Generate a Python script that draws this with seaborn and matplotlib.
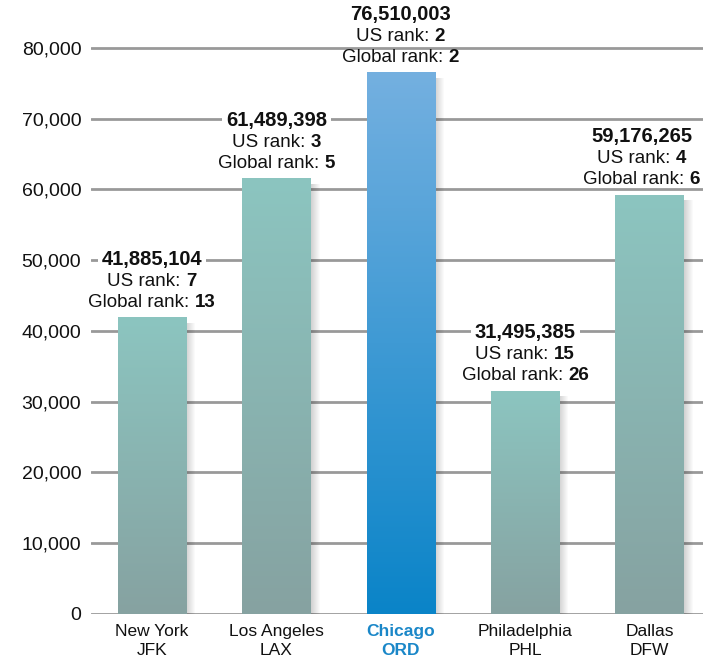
import numpy as np
import matplotlib
matplotlib.use("Agg")
import matplotlib.pyplot as plt
import seaborn as sns
from matplotlib.patches import Rectangle
from matplotlib.colors import LinearSegmentedColormap

# ---- data ----
airports = ["New York\nJFK", "Los Angeles\nLAX", "Chicago\nORD", "Philadelphia\nPHL", "Dallas\nDFW"]
passengers = [41885104, 61489398, 76510003, 31495385, 59176265]
us_rank = [7, 3, 2, 15, 4]
global_rank = [13, 5, 2, 26, 6]
yticks = [0, 10000, 20000, 30000, 40000, 50000, 60000, 70000, 80000]  # thousands
highlight = "Chicago\nORD"

sns.set_style("white")
plt.rcParams["font.family"] = ["Liberation Sans", "DejaVu Sans"]

W, H = 703, 662
fig = plt.figure(figsize=(W / 100, H / 100), dpi=100)
ax = fig.add_axes([91 / W, (H - 614) / H, 612 / W, 614 / H])

vals_k = [p / 1000 for p in passengers]
sns.barplot(x=airports, y=vals_k, width=0.55, ax=ax, color="#8cc5c0", zorder=3)

xlim = (-0.49, 4.43)
ylim = (0, 86780)
ax.set_xlim(*xlim)
ax.set_ylim(*ylim)
px_x = (xlim[1] - xlim[0]) / 612
px_y = (ylim[1] - ylim[0]) / 614

teal = LinearSegmentedColormap.from_list("teal", ["#86a2a1", "#8cc5c0"])
blue = LinearSegmentedColormap.from_list("blue", ["#0a84c8", "#74b0e0"])
grad = np.linspace(0, 1, 256).reshape(-1, 1)

for patch, name in zip(ax.patches, airports):
    x0, w, h = patch.get_x(), patch.get_width(), patch.get_height()
    patch.set_facecolor("none")
    patch.set_edgecolor("none")
    cmap = blue if name == highlight else teal
    ax.imshow(grad, extent=[x0, x0 + w, 0, h], origin="lower", cmap=cmap,
              aspect="auto", zorder=3, interpolation="bicubic")
    # soft shadow on right
    for i in range(1, 10):
        ax.add_patch(Rectangle((x0 + i * px_x, 0), w, h - 5 * px_y,
                               facecolor="black", alpha=0.018, edgecolor="none", zorder=2))

ax.set_xlim(*xlim)
ax.set_ylim(*ylim)

# grid
ax.set_yticks(yticks)
ax.set_yticklabels([f"{v:,}" for v in yticks], fontsize=14, color="#111111")
ax.yaxis.grid(True, color="#999999", linewidth=2, zorder=1)
ax.set_axisbelow(True)
for s in ax.spines.values():
    s.set_visible(False)
ax.tick_params(axis="both", length=0)
ax.tick_params(axis="y", pad=7)
ax.tick_params(axis="x", pad=7)
ax.set_xlabel("")
ax.set_ylabel("")

for lbl in ax.get_xticklabels():
    lbl.set_fontsize(12.5)
    lbl.set_linespacing(1.35)
    lbl.set_color("#111111")
    if lbl.get_text() == highlight:
        lbl.set_color("#1a87c8")
        lbl.set_fontweight("bold")

# annotations
box = dict(boxstyle="square,pad=0.2", facecolor="white", edgecolor="none")
renderer = fig.canvas.get_renderer()
FS = 13.5
space_px = 0.278 * FS * 100 / 72


def mixed_line(i, top, label, number, dy):
    t1 = ax.annotate(label, (i, top), xytext=(0, dy), textcoords="offset pixels",
                     ha="left", va="bottom", fontsize=FS, color="#111111",
                     zorder=5, annotation_clip=False)
    t2 = ax.annotate(str(number), (i, top), xytext=(0, dy), textcoords="offset pixels",
                     ha="left", va="bottom", fontsize=FS, fontweight="bold",
                     color="#111111", zorder=5, annotation_clip=False)
    w1 = t1.get_window_extent(renderer).width
    w2 = t2.get_window_extent(renderer).width
    total = w1 + space_px + w2
    return [(t1, -total / 2), (t2, -total / 2 + w1 + space_px)], total


for i, (p, u, g) in enumerate(zip(passengers, us_rank, global_rank)):
    top = p / 1000
    parts_g, wg = mixed_line(i, top, "Global rank:", g, 7)
    parts_u, wu = mixed_line(i, top, "US rank:", u, 28)
    tn = ax.annotate(f"{p:,}", (i, top), xytext=(0, 49),
                     textcoords="offset pixels", ha="center", va="bottom",
                     fontsize=14.5, fontweight="bold", color="#111111", zorder=5,
                     bbox=box, annotation_clip=False)
    wn = tn.get_window_extent(renderer).width
    # keep the block inside the figure
    cx = ax.transData.transform((i, top))[0]
    right = cx + max(wg, wu, wn) / 2
    shift = min(0.0, (W - 3) - right)
    for t, off in parts_g + parts_u:
        t.xyann = (off + shift, t.xyann[1])
    tn.xyann = (shift, 49)

fig.savefig("out.png", dpi=100)
